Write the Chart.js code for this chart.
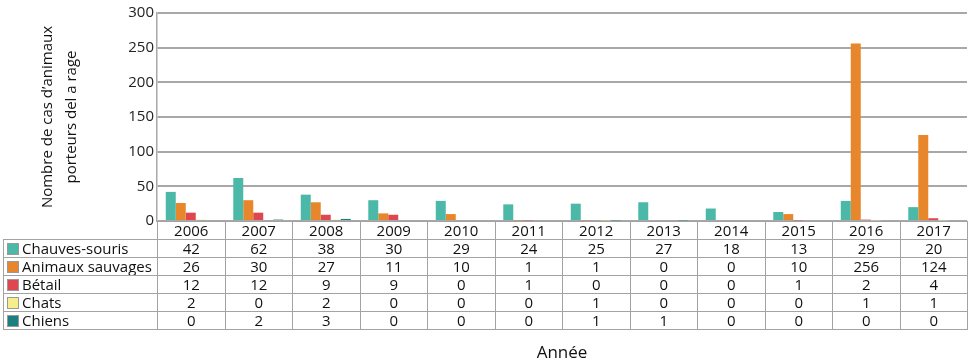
<!DOCTYPE html>
<html>
<head>
<meta charset="utf-8">
<script src="https://cdn.jsdelivr.net/npm/chart.js@4/dist/chart.umd.min.js"></script>
<style>
  body { margin: 0; background: #fff; font-family: 'Open Sans', sans-serif; }
  #wrap { position: relative; width: 980px; height: 363px; }
  #dataTable { position: absolute; border-collapse: collapse; table-layout: fixed; font-size: 15px; color: #111; }
  #dataTable td { border: 1.5px solid #a3a3a3; padding: 0; height: 17px; line-height: 17px; text-align: center; white-space: nowrap; overflow: hidden; }
  #dataTable td.lbl { text-align: left; padding-left: 3px; }
  #dataTable td.blank { border: none; border-bottom: 1.5px solid #a3a3a3; }
  .sw { display: inline-block; width: 10px; height: 10px; border: 1px solid #999; margin-right: 3px; vertical-align: -1px; }
  #xTitle { position: absolute; top: 340px; font-size: 17px; color: #111; text-align: center; }
</style>
</head>
<body>
<div id="wrap">
  <canvas id="rageChart" width="980" height="363"></canvas>
  <table id="dataTable"></table>
  <div id="xTitle">Année</div>
</div>
<script>
const years = ['2006', '2007', '2008', '2009', '2010', '2011', '2012', '2013', '2014', '2015', '2016', '2017'];
const seriesNames = ['Chauves-souris', 'Animaux sauvages', 'Bétail', 'Chats', 'Chiens'];
const seriesColors = ['#4cb9a8', '#e8862b', '#e04650', '#f5ee8a', '#197f80'];
const chauvesSouris = [42, 62, 38, 30, 29, 24, 25, 27, 18, 13, 29, 20];
const animauxSauvages = [26, 30, 27, 11, 10, 1, 1, 0, 0, 10, 256, 124];
const betail = [12, 12, 9, 9, 0, 1, 0, 0, 0, 1, 2, 4];
const chats = [2, 0, 2, 0, 0, 0, 1, 0, 0, 0, 1, 1];
const chiens = [0, 2, 3, 0, 0, 0, 1, 1, 0, 0, 0, 0];
const yTicks = [0, 50, 100, 150, 200, 250, 300];

const seriesValues = [chauvesSouris, animauxSauvages, betail, chats, chiens];

function buildTable(chart) {
    const xs = chart.scales.x;
    const area = chart.chartArea;
    const table = document.getElementById('dataTable');
    const tableLeft = 3;
    const colW = (area.right - area.left) / years.length;
    table.style.left = tableLeft + 'px';
    table.style.top = area.bottom + 'px';
    table.style.width = (area.right - tableLeft) + 'px';

    let html = '<colgroup><col style="width:' + (area.left - tableLeft) + 'px">';
    years.forEach(() => { html += '<col style="width:' + colW + 'px">'; });
    html += '</colgroup>';

    html += '<tr><td class="blank"></td>';
    years.forEach(y => { html += '<td>' + y + '</td>'; });
    html += '</tr>';

    seriesNames.forEach((name, i) => {
        html += '<tr><td class="lbl"><span class="sw" style="background:' + seriesColors[i] + '"></span>' + name + '</td>';
        seriesValues[i].forEach(v => { html += '<td>' + v + '</td>'; });
        html += '</tr>';
    });
    table.innerHTML = html;

    const title = document.getElementById('xTitle');
    title.style.left = area.left + 'px';
    title.style.width = (area.right - area.left) + 'px';
}

const ctx = document.getElementById('rageChart').getContext('2d');
new Chart(ctx, {
    type: 'bar',
    data: {
        labels: years,
        datasets: seriesNames.map((name, i) => ({
            label: name,
            data: seriesValues[i],
            backgroundColor: seriesColors[i],
            borderWidth: 0
        }))
    },
    options: {
        responsive: false,
        animation: false,
        layout: { padding: { top: 13, right: 13, bottom: 142, left: 0 } },
        datasets: { bar: { categoryPercentage: 0.74, barPercentage: 1 } },
        plugins: {
            legend: { display: false },
            tooltip: { enabled: false }
        },
        scales: {
            x: {
                display: true,
                ticks: { display: false },
                grid: { display: false },
                border: { display: false },
                afterFit: s => { s.height = 0; }
            },
            y: {
                min: 0,
                max: 300,
                afterBuildTicks: s => { s.ticks = yTicks.map(v => ({ value: v })); },
                afterFit: s => { s.width = 157; },
                ticks: { color: '#222', padding: 3, font: { family: 'Open Sans', size: 15 } },
                grid: { color: '#a8a8a8', lineWidth: 2, drawTicks: false },
                border: { display: true, color: '#a8a8a8', width: 1.5 },
                title: {
                    display: true,
                    text: ['Nombre de cas d\u2019animaux', 'porteurs del a rage'],
                    color: '#111',
                    font: { family: 'Open Sans', size: 15, lineHeight: 1.6 },
                    padding: { top: 36, bottom: 0 }
                }
            }
        }
    },
    plugins: [{
        id: 'dataTable',
        afterRender: chart => { if (!chart._tableDone) { chart._tableDone = true; buildTable(chart); } }
    }]
});
</script>
</body>
</html>
